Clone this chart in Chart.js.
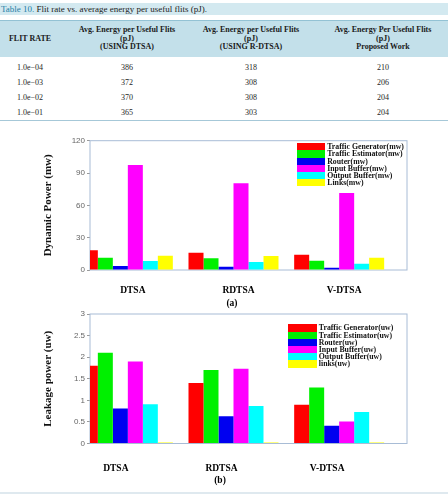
<!DOCTYPE html>
<html lang="en">
<head>
  <meta charset="UTF-8" />
  <title>Flit energy and power</title>
  <script src="https://cdn.jsdelivr.net/npm/chart.js"></script>
  <style>
    body {
      margin: 0;
      width: 448px;
      height: 494px;
      position: relative;
      background: #fff;
      font-family: 'Liberation Serif', 'Times New Roman', serif;
      overflow: hidden;
    }
    #caption {
      position: absolute;
      left: 0; top: 3px;
      width: 448px; height: 12px;
      background: #d3e9f0;
      font-size: 9px;
      line-height: 12px;
      color: #222;
      padding-left: 1px;
      box-sizing: border-box;
    }
    #caption b { font-weight: normal; color: #1f7ea6; }
    #tbl {
      position: absolute;
      left: 0; top: 20px;
      width: 448px;
      border-collapse: collapse;
      table-layout: fixed;
      font-size: 8px;
      color: #262626;
    }
    #tbl th {
      background: #c3e0ea;
      border-top: 1px solid #93c2d4;
      height: 36px;
      padding: 0;
      font-size: 8px;
      font-weight: bold;
      line-height: 8.6px;
      color: #1a1a1a;
    }
    #tbl td { height: 15px; padding: 0; text-align: center; }
    #tbl tr.gap td { height: 3px; }
    #tbl tbody tr:last-child td { border-bottom: 1.5px solid #a6c8d8; }
    #tbl .c4 { padding-left: 10px; }
    .chartbox { position: absolute; left: 0; width: 448px; }
    .legend {
      position: absolute;
      font-weight: bold;
      font-size: 7.8px;
      line-height: 7.2px;
      color: #111;
      white-space: nowrap;
    }
    .legend div { height: 7.2px; display: flex; align-items: center; }
    .legend span.sw { display: inline-block; width: 28.5px; height: 7.2px; margin-right: 2px; }
    .sub { position: absolute; font-weight: bold; font-size: 9.5px; transform: translateX(-50%); }
    #bottomline { position: absolute; left: 0; top: 492px; width: 448px; height: 2px; background: #dfe9ef; }
  </style>
</head>
<body>
  <div id="caption"><b>Table 10.</b> Flit rate vs. average energy per useful flits (pJ).</div>
  <table id="tbl">
    <colgroup><col style="width:60px"><col style="width:134px"><col style="width:114px"><col style="width:140px"></colgroup>
    <thead>
      <tr>
        <th>FLIT RATE</th>
        <th>Avg. Energy per Useful Flits<br>(pJ)<br>(USING DTSA)</th>
        <th>Avg. Energy per Useful Flits<br>(pJ)<br>(USING R-DTSA)</th>
        <th class="c4">Avg. Energy Per Useful Flits<br>(pJ)<br>Proposed Work</th>
      </tr>
    </thead>
    <tbody id="tbody"><tr class="gap"><td></td><td></td><td></td><td></td></tr></tbody>
  </table>

  <div class="chartbox" style="top:125px;height:185px"><canvas id="dynChart"></canvas></div>
  <div class="legend" id="legendA" style="left:296.7px;top:143.3px"></div>
  <div class="sub" style="left:232px;top:298px">(a)</div>

  <div class="chartbox" style="top:300px;height:180px"><canvas id="leakChart"></canvas></div>
  <div class="legend" id="legendB" style="left:288.3px;top:324.4px"></div>
  <div class="sub" style="left:220px;top:475px">(b)</div>
  <div id="bottomline"></div>

  <script>
    // table data
    const flitRates = ['1.0e\u221204', '1.0e\u221203', '1.0e\u221202', '1.0e\u221201'];
    const energyDTSA = [386, 372, 370, 365];
    const energyRDTSA = [318, 308, 308, 303];
    const energyProposed = [210, 206, 204, 204];

    // chart data
    const schemes = ['DTSA', 'RDTSA', 'V-DTSA'];
    const colors = ['#ff0000', '#00f000', '#0000f0', '#ff00ff', '#00ffff', '#ffff00'];

    const dynLabels = ['Traffic Generator(mw)', 'Traffic Estimator(mw)', 'Router(mw)', 'Input Buffer(mw)', 'Output Buffer(mw)', 'Links(mw)'];
    const trafficGenDyn = [18.3, 16.1, 14.2];
    const trafficEstDyn = [11.4, 10.8, 8.7];
    const routerDyn = [3.7, 3.1, 2.2];
    const inputBufDyn = [97.5, 80.4, 71.5];
    const outputBufDyn = [8.4, 7.4, 5.9];
    const linksDyn = [13.3, 13.0, 11.4];
    const dynTicks = [0, 30, 60, 90, 120];

    const leakLabels = ['Traffic Generator(uw)', 'Traffic Estimator(uw)', 'Router(uw)', 'Input Buffer(uw)', 'Output Buffer(uw)', 'links(uw)'];
    const trafficGenLeak = [1.8, 1.4, 0.9];
    const trafficEstLeak = [2.1, 1.7, 1.3];
    const routerLeak = [0.81, 0.63, 0.41];
    const inputBufLeak = [1.9, 1.73, 0.51];
    const outputBufLeak = [0.91, 0.87, 0.73];
    const linksLeak = [0, 0, 0];
    const leakTicks = [0, 0.5, 1, 1.5, 2, 2.5, 3];

    // fill table
    const tbody = document.getElementById('tbody');
    flitRates.forEach((r, i) => {
      const tr = document.createElement('tr');
      [r, energyDTSA[i], energyRDTSA[i], energyProposed[i]].forEach((v, j) => {
        const td = document.createElement('td');
        td.textContent = v;
        if (j === 3) td.className = 'c4';
        tr.appendChild(td);
      });
      tbody.appendChild(tr);
    });

    // html legend inside plot
    function buildLegend(id, labels) {
      const el = document.getElementById(id);
      labels.forEach((l, i) => {
        const row = document.createElement('div');
        row.innerHTML = '<span class="sw" style="background:' + colors[i] + '"></span>' + l;
        el.appendChild(row);
      });
    }
    buildLegend('legendA', dynLabels);
    buildLegend('legendB', leakLabels);

    // light blue frame around plot area
    const framePlugin = {
      id: 'frame',
      beforeDatasetsDraw(chart) {
        const a = chart.chartArea;
        const ctx = chart.ctx;
        ctx.save();
        ctx.strokeStyle = '#a8bcd6';
        ctx.lineWidth = 1;
        ctx.strokeRect(a.left, a.top, a.right - a.left, a.bottom - a.top);
        ctx.restore();
      }
    };

    function makeDatasets(labels, series) {
      const ds = series.map((d, i) => ({
        label: labels[i],
        data: d,
        backgroundColor: colors[i],
        clip: 0,
        minBarLength: i === 5 ? 1 : 0
      }));
      // two empty slots so each group sits like in the original figure
      ds.push({ label: '', data: [null, null, null], clip: 0 });
      ds.push({ label: '', data: [null, null, null], clip: 0 });
      return ds;
    }

    function makeChart(id, title, series, labels, ticks, padTop, xHeight, labelOffset, tickPad) {
      return new Chart(document.getElementById(id), {
        type: 'bar',
        data: { labels: schemes, datasets: makeDatasets(labels, series) },
        options: {
          responsive: true,
          maintainAspectRatio: false,
          animation: false,
          events: [],
          categoryPercentage: 120 / 105.67,
          barPercentage: 1,
          layout: { padding: { left: 0, right: 41, top: padTop, bottom: 0 } },
          plugins: { legend: { display: false }, tooltip: { enabled: false } },
          scales: {
            x: {
              grid: { display: false, drawTicks: false },
              border: { display: false },
              ticks: {
                color: '#000',
                padding: tickPad,
                labelOffset: labelOffset,
                font: { family: "'Liberation Serif', serif", size: 9.5, weight: 'bold' }
              },
              afterFit(s) { s.height = xHeight; }
            },
            y: {
              min: ticks[0],
              max: ticks[ticks.length - 1],
              afterBuildTicks(s) { s.ticks = ticks.map(v => ({ value: v })); },
              grid: { drawOnChartArea: false, tickLength: 3, color: '#9a9a9a' },
              border: { display: false },
              ticks: {
                color: '#666',
                padding: 2,
                callback: v => String(v),
                font: { family: "'Liberation Sans', Arial, sans-serif", size: 8 }
              },
              title: {
                display: true,
                text: title,
                color: '#111',
                padding: { top: 41.4, bottom: 0 },
                font: { family: "'Liberation Serif', serif", size: 11, weight: 'bold' }
              },
              afterFit(s) { s.width = 90; }
            }
          }
        },
        plugins: [framePlugin]
      });
    }

    makeChart('dynChart', 'Dynamic Power (mw)',
      [trafficGenDyn, trafficEstDyn, routerDyn, inputBufDyn, outputBufDyn, linksDyn],
      dynLabels, dynTicks, 15.7, 40, -10, 15);

    makeChart('leakChart', 'Leakage power (uw)',
      [trafficGenLeak, trafficEstLeak, routerLeak, inputBufLeak, outputBufLeak, linksLeak],
      leakLabels, leakTicks, 14, 36.5, -27, 19);
  </script>
</body>
</html>
